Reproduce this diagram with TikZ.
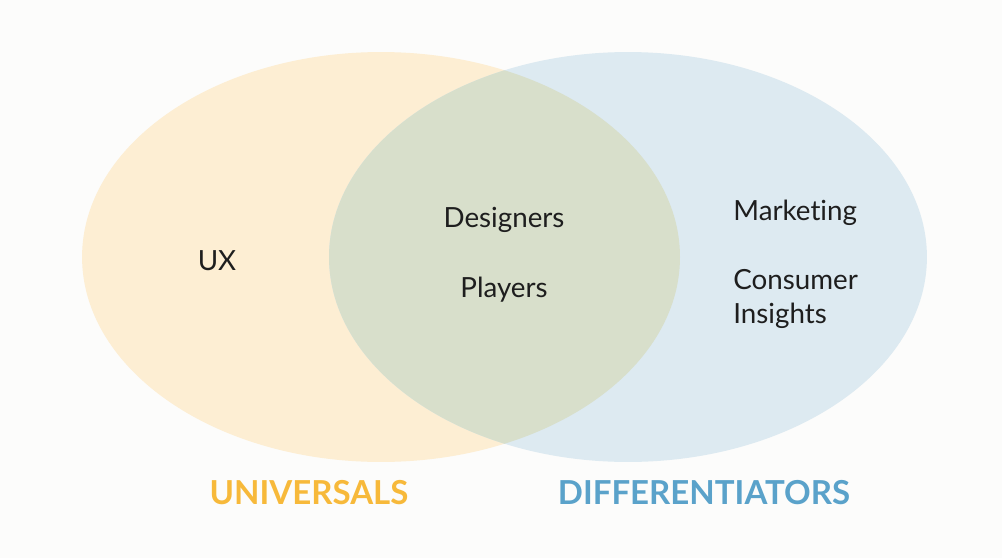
\documentclass[tikz,border=0pt]{standalone}
\usepackage{fontspec}
\setmainfont{Lato}[Ligatures=NoCommon]
\usepackage{tikz}
\usetikzlibrary{positioning,shapes.geometric}
\definecolor{bgc}{HTML}{FCFCFB}
\definecolor{univfill}{HTML}{FDEED3}
\definecolor{difffill}{HTML}{DDEAF1}
\definecolor{bothfill}{HTML}{D8DFCB}
\definecolor{univtext}{HTML}{F7B93A}
\definecolor{difftext}{HTML}{5AA2CA}
\definecolor{itemtext}{HTML}{1E1E1E}

\begin{document}
\begin{tikzpicture}[x=0.02cm, y=-0.02cm,
  circ/.style={ellipse, draw=none, fill=#1, minimum width=11.96cm, minimum height=8.2cm},
  item/.style={font=\fontsize{15.8}{19.3}\selectfont, text=itemtext, inner sep=0pt},
  setname/.style={font=\fontsize{18.8}{22}\selectfont\bfseries, text=#1, inner sep=0pt},
]
\fill[bgc] (0,0) rectangle (1002,558);
\useasboundingbox (0,0) rectangle (1002,558);

% Sets
\node[circ=univfill] (univ) at (381,257) {};
\node[circ=difffill] (diff) at (628,257) {};
\begin{scope}
  \clip (381,257) ellipse [x radius=299, y radius=205];
  \fill[bothfill] (628,257) ellipse [x radius=299, y radius=205];
\end{scope}

% Members
\node[item] (ux) at (217,261) {UX};
\node[item] (designers) at (504,220) {Designers};
\node[item] (players) at (504,290) {Players};
\node[item, anchor=west] (marketing) at (733,213) {Marketing};
\node[item, anchor=west, align=left] (insights) at (733,299) {Consumer\\Insights};

% Set names
\node[setname=univtext] (univlbl) at (309,493) {UNIVERSALS};
\node[setname=difftext] (difflbl) at (704,493) {DIFFERENTIATORS};
\end{tikzpicture}
\end{document}
